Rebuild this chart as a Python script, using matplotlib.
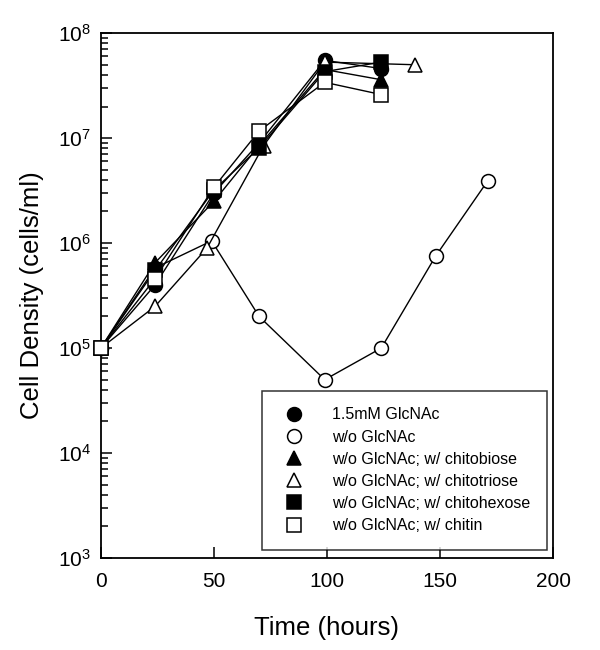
import numpy as np
import matplotlib
matplotlib.use('Agg')
import matplotlib.pyplot as plt

plt.rcParams['font.family'] = ['Liberation Sans', 'DejaVu Sans']

#%% Data (time in hours, density in cells/ml)

labels = ['1.5mM GlcNAc',
          'w/o GlcNAc',
          'w/o GlcNAc; w/ chitobiose',
          'w/o GlcNAc; w/ chitotriose',
          'w/o GlcNAc; w/ chitohexose',
          'w/o GlcNAc; w/ chitin']

t_glcnac = [0, 24, 50, 70, 99, 124]
y_glcnac = [1e5, 4.0e5, 3.0e6, 9.0e6, 5.5e7, 4.6e7]

t_none = [0, 24, 49, 70, 99, 124, 148, 171]
y_none = [1e5, 5.8e5, 1.05e6, 2.0e5, 5.0e4, 1.0e5, 7.5e5, 3.9e6]

t_biose = [0, 24, 50, 70, 99, 124]
y_biose = [1e5, 6.5e5, 2.5e6, 8.5e6, 4.5e7, 3.6e7]

t_triose = [0, 24, 47, 72, 99, 139]
y_triose = [1e5, 2.5e5, 9.0e5, 8.5e6, 5.3e7, 5.0e7]

t_hexose = [0, 24, 50, 70, 99, 124]
y_hexose = [1e5, 5.5e5, 3.2e6, 8.1e6, 4.3e7, 5.3e7]

t_chitin = [0, 24, 50, 70, 99, 124]
y_chitin = [1e5, 4.6e5, 3.4e6, 1.17e7, 3.4e7, 2.6e7]

series = [(t_glcnac, y_glcnac, 'o', 'black'),
          (t_none, y_none, 'o', 'white'),
          (t_biose, y_biose, '^', 'black'),
          (t_triose, y_triose, '^', 'white'),
          (t_hexose, y_hexose, 's', 'black'),
          (t_chitin, y_chitin, 's', 'white')]

#%% Plot

fig = plt.figure(figsize=(6, 6.5), dpi=100)
ax = fig.add_axes([0.168, 0.1415, 0.754, 0.8075])

for (t, y, m, fc), lab in zip(series, labels):
    ax.plot(t, y, color='black', lw=1.0, marker=m, markersize=10,
            markerfacecolor=fc, markeredgecolor='black', markeredgewidth=1.1,
            label=lab, clip_on=False, zorder=3)

ax.set_yscale('log')
ax.set_xlim(0, 200)
ax.set_ylim(1e3, 1e8)
ax.set_xticks([0, 50, 100, 150, 200])

ax.tick_params(which='both', direction='in', top=False, right=False,
               labelsize=15, width=1.1)
ax.tick_params(which='major', length=8, pad=7)
ax.tick_params(which='minor', length=5)
ax.tick_params(axis='x', pad=10)
for sp in ax.spines.values():
    sp.set_linewidth(1.3)

ax.set_xlabel('Time (hours)', fontsize=18.5, labelpad=18)
ax.set_ylabel('Cell Density (cells/ml)', fontsize=18.5, labelpad=10)

leg = ax.legend(loc='lower left', bbox_to_anchor=(0.3566, 0.0152),
                fontsize=11.5, frameon=True, fancybox=False,
                handlelength=1.9, handletextpad=1.45, borderpad=1.05,
                labelspacing=0.45, borderaxespad=0)
leg.get_frame().set_edgecolor('black')
leg.get_frame().set_linewidth(1.1)
for line in leg.get_lines():
    line.set_linestyle('none')
    line.set_markersize(10)

plt.savefig('out.png', dpi=100)
